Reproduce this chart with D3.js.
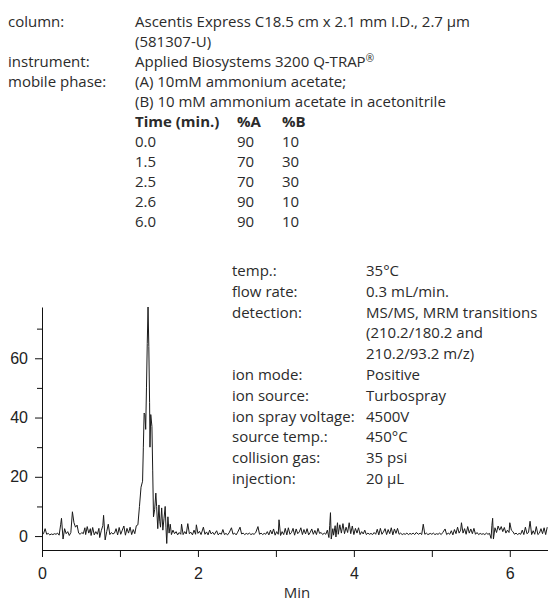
<!DOCTYPE html>
<html>
<head>
<meta charset="utf-8">
<script src="https://cdn.jsdelivr.net/npm/d3@7"></script>
<style>
  body { margin: 0; background: #fff; }
  svg { display: block; }
</style>
</head>
<body>
<script>
// method conditions, upper block
const topLabels = ["column:", "", "instrument:", "mobile phase:", ""];
const topValues = [
  "Ascentis Express C18.5 cm x 2.1 mm I.D., 2.7 µm",
  "(581307-U)",
  "Applied Biosystems 3200 Q-TRAP",
  "(A) 10mM ammonium acetate;",
  "(B) 10 mM ammonium acetate in acetonitrile"
];

// gradient table
const gradientHeader = ["Time (min.)", "%A", "%B"];
const gradientTime = ["0.0", "1.5", "2.5", "2.6", "6.0"];
const gradientA = [90, 70, 70, 90, 90];
const gradientB = [10, 30, 30, 10, 10];

// method conditions, lower block
const bottomLabels = ["temp.:", "flow rate:", "detection:", "", "", "ion mode:", "ion source:",
  "ion spray voltage:", "source temp.:", "collision gas:", "injection:"];
const bottomValues = ["35°C", "0.3 mL/min.", "MS/MS, MRM transitions", "(210.2/180.2 and",
  "210.2/93.2 m/z)", "Positive", "Turbospray", "4500V", "450°C", "35 psi", "20 µL"];

// axes
const xTicks = [0, 1, 2, 3, 4, 5, 6];
const xLabelled = [0, 2, 4, 6];
const yTicks = [0, 10, 20, 30, 40, 50, 60, 70];
const yLabelled = [0, 20, 40, 60];
const xTitle = "Min";

// chromatogram trace [min, signal]
const trace = [
  [0.00,0.5],[0.02,0.8],[0.04,2.5],[0.06,0.6],[0.08,0.9],[0.10,0.4],[0.12,0.7],[0.14,0.5],
  [0.16,0.8],[0.18,0.6],[0.20,1.0],[0.22,0.3],[0.24,4.0],[0.25,6.0],[0.27,-1.0],[0.29,2.5],
  [0.31,0.8],[0.33,1.5],[0.35,0.2],[0.37,1.2],[0.39,8.2],[0.41,4.5],[0.43,3.0],[0.45,3.7],
  [0.47,1.0],[0.49,0.6],[0.51,1.2],[0.53,0.8],[0.55,2.8],[0.56,0.5],[0.58,3.2],[0.60,1.0],
  [0.62,2.5],[0.63,0.2],[0.65,2.9],[0.67,0.4],[0.69,1.5],[0.71,0.6],[0.73,2.6],[0.74,-0.5],
  [0.76,1.8],[0.78,3.5],[0.79,7.0],[0.81,-1.3],[0.83,1.5],[0.85,4.0],[0.87,0.5],[0.89,1.2],
  [0.91,0.7],[0.93,1.0],[0.95,2.5],[0.97,0.4],[0.99,2.9],[1.01,0.6],[1.03,2.0],[1.05,3.4],
  [1.07,0.3],[1.09,2.6],[1.11,1.0],[1.13,3.0],[1.15,0.5],[1.17,2.2],[1.19,0.8],[1.21,3.5],
  [1.23,3.8],[1.25,10],[1.27,16.5],[1.29,18.5],[1.30,30],[1.31,41.5],[1.32,41],[1.33,36],
  [1.34,50],[1.35,65],[1.36,77.3],[1.37,64],[1.38,45],[1.385,30],[1.395,41],[1.41,37],
  [1.42,22],[1.43,6.5],[1.445,9],[1.46,14.5],[1.47,10],[1.485,2.5],[1.50,10.5],[1.51,5],
  [1.52,3],[1.535,9.5],[1.55,2],[1.565,6],[1.58,10],[1.59,3],[1.60,-2.5],[1.615,6.5],
  [1.63,1],[1.645,4],[1.66,0.5],[1.68,2],[1.70,0.8],[1.72,1.5],[1.74,0.4],[1.76,1.2],
  [1.78,0.6],[1.79,4.0],[1.81,0.5],[1.83,1.5],[1.85,0.7],[1.87,4.2],[1.89,0.8],[1.91,1.3],
  [1.93,0.4],[1.95,2.0],[1.97,0.6],[1.98,3.8],[2.00,0.9],[2.02,1.6],[2.04,0.5],[2.07,3.0],
  [2.09,0.6],[2.11,1.4],[2.13,0.4],[2.15,2.0],[2.17,0.7],[2.19,1.3],[2.21,0.5],[2.24,1.8],
  [2.26,0.4],[2.28,1.0],[2.30,0.6],[2.32,2.2],[2.34,0.5],[2.36,0.9],[2.38,0.4],[2.40,1.1],
  [2.43,2.8],[2.45,0.6],[2.47,1.0],[2.49,0.4],[2.51,1.3],[2.54,3.0],[2.56,0.7],[2.58,1.0],
  [2.60,0.5],[2.62,0.9],[2.64,0.6],[2.66,1.0],[2.68,0.5],[2.70,0.8],[2.72,0.6],[2.74,1.1],
  [2.77,3.2],[2.79,0.6],[2.81,1.0],[2.83,0.5],[2.85,0.9],[2.87,0.6],[2.89,1.5],[2.91,0.4],
  [2.93,2.0],[2.95,0.7],[2.97,2.4],[2.99,0.3],[3.01,1.5],[3.03,0.6],[3.04,5.5],[3.06,0.2],
  [3.08,1.5],[3.10,0.5],[3.12,2.6],[3.14,0.4],[3.16,2.8],[3.18,0.6],[3.20,1.2],[3.22,2.6],
  [3.24,0.3],[3.26,2.4],[3.28,0.8],[3.30,1.4],[3.32,2.8],[3.34,0.5],[3.36,2.2],[3.38,0.7],
  [3.40,2.5],[3.42,0.4],[3.44,1.2],[3.46,2.4],[3.48,0.6],[3.50,1.9],[3.52,0.5],[3.54,2.6],
  [3.56,0.9],[3.58,1.2],[3.60,0.5],[3.62,1.0],[3.64,0.6],[3.66,2.0],[3.68,-0.5],[3.69,3.5],
  [3.70,7.9],[3.71,-1.0],[3.73,2.5],[3.74,0.3],[3.76,3.5],[3.77,-0.3],[3.79,4.5],[3.80,0.6],
  [3.82,3.8],[3.84,1.0],[3.86,4.2],[3.88,0.8],[3.90,3.0],[3.92,1.2],[3.94,4.5],[3.96,0.8],
  [3.98,3.4],[4.00,0.5],[4.02,2.6],[4.04,1.0],[4.06,2.8],[4.08,0.5],[4.10,1.5],[4.12,0.7],
  [4.14,2.0],[4.16,0.5],[4.18,1.0],[4.20,0.6],[4.22,0.9],[4.24,0.5],[4.26,1.2],[4.28,0.6],
  [4.30,2.3],[4.32,0.4],[4.34,2.6],[4.36,0.6],[4.38,1.4],[4.40,2.5],[4.42,0.5],[4.44,2.2],
  [4.46,0.8],[4.48,2.8],[4.50,0.4],[4.52,2.4],[4.54,0.9],[4.56,2.6],[4.58,0.6],[4.60,1.0],
  [4.62,0.5],[4.64,0.8],[4.66,0.6],[4.68,1.0],[4.70,0.5],[4.72,0.9],[4.74,0.6],[4.76,1.0],
  [4.78,0.5],[4.80,1.2],[4.83,0.6],[4.85,1.0],[4.87,0.5],[4.89,4.0],[4.91,0.6],[4.93,1.0],
  [4.95,0.5],[4.98,0.9],[5.00,0.6],[5.02,1.0],[5.04,0.5],[5.06,0.8],[5.08,0.6],[5.10,1.0],
  [5.12,0.5],[5.14,1.2],[5.17,2.4],[5.19,0.5],[5.21,1.0],[5.23,0.6],[5.25,1.8],[5.27,0.4],
  [5.29,2.2],[5.31,0.8],[5.33,3.0],[5.35,1.0],[5.37,2.0],[5.38,4.5],[5.40,1.0],[5.42,2.5],
  [5.44,0.6],[5.46,3.2],[5.48,1.0],[5.50,2.4],[5.52,0.8],[5.54,2.6],[5.56,0.6],[5.58,1.2],
  [5.60,0.5],[5.62,0.9],[5.64,0.6],[5.66,0.8],[5.68,0.5],[5.70,1.0],[5.72,0.6],[5.74,0.9],
  [5.76,-0.8],[5.77,3.5],[5.78,6.0],[5.79,-1.0],[5.81,2.8],[5.83,1.2],[5.85,3.4],[5.87,2.0],
  [5.89,3.2],[5.91,1.5],[5.93,2.9],[5.95,1.0],[5.97,2.0],[5.99,1.2],[6.00,4.5],[6.02,2.0],
  [6.04,1.5],[6.06,0.6],[6.08,1.0],[6.10,0.5],[6.12,0.9],[6.14,0.6],[6.16,2.0],[6.18,0.5],
  [6.20,3.0],[6.22,0.8],[6.24,1.2],[6.26,5.0],[6.28,0.5],[6.30,1.8],[6.32,0.6],[6.34,3.2],
  [6.36,0.5],[6.38,1.0],[6.40,2.5],[6.42,0.8],[6.44,2.8],[6.46,0.5],[6.48,3.0]
];

const width = 548, height = 603;
const textFont = "'Open Sans', 'Noto Sans', sans-serif";
const axisFont = "'Liberation Sans', Arial, sans-serif";
const textColor = "#2b2b2b";
const textSize = 15;

const svg = d3.select("body").append("svg")
  .attr("width", width)
  .attr("height", height)
  .style("background", "#fff");

// ---- text blocks ----
const topBlock = svg.append("g")
  .attr("font-family", textFont)
  .attr("font-size", textSize)
  .attr("fill", textColor);

topBlock.selectAll("text.lab")
  .data(topLabels)
  .join("text")
  .attr("class", "lab")
  .attr("x", 8)
  .attr("y", (d, i) => 27 + i * 20)
  .text(d => d);

topBlock.selectAll("text.val")
  .data(topValues)
  .join("text")
  .attr("class", "val")
  .attr("x", 135)
  .attr("y", (d, i) => 27 + i * 20)
  .text(d => d)
  .filter((d, i) => i === 2)
  .append("tspan")
  .attr("font-size", 10)
  .attr("dy", -5)
  .text("®");

const colX = [135, 237, 282];
topBlock.selectAll("text.head")
  .data(gradientHeader)
  .join("text")
  .attr("class", "head")
  .attr("x", (d, i) => colX[i])
  .attr("y", 127)
  .attr("font-weight", "bold")
  .text(d => d);

gradientTime.forEach((t, i) => {
  const row = [t, gradientA[i], gradientB[i]];
  topBlock.selectAll(`text.row${i}`)
    .data(row)
    .join("text")
    .attr("class", `row${i}`)
    .attr("x", (d, j) => colX[j])
    .attr("y", 147 + i * 20)
    .text(d => d);
});

const bottomBlock = svg.append("g")
  .attr("font-family", textFont)
  .attr("font-size", textSize)
  .attr("fill", textColor);

bottomBlock.selectAll("text.lab")
  .data(bottomLabels)
  .join("text")
  .attr("class", "lab")
  .attr("x", 232)
  .attr("y", (d, i) => 276 + i * 20.8)
  .text(d => d);

bottomBlock.selectAll("text.val")
  .data(bottomValues)
  .join("text")
  .attr("class", "val")
  .attr("x", 366)
  .attr("y", (d, i) => 276 + i * 20.8)
  .text(d => d);

// ---- chart ----
const x = d3.scaleLinear().domain([0, 6.49]).range([42, 548]);
const y = d3.scaleLinear().domain([-4.7, 77.3]).range([550, 307]);

const xAxis = svg.append("g")
  .attr("transform", `translate(0,${y(-4.7)})`)
  .call(d3.axisBottom(x)
    .tickValues(xTicks)
    .tickSize(7)
    .tickSizeOuter(0)
    .tickPadding(11)
    .tickFormat(d => xLabelled.includes(d) ? d : ""));

const yAxis = svg.append("g")
  .attr("transform", `translate(${x(0)},0)`)
  .call(d3.axisLeft(y)
    .tickValues(yTicks)
    .tickSize(6)
    .tickSizeOuter(0)
    .tickPadding(8)
    .tickFormat(d => yLabelled.includes(d) ? d : ""));

yAxis.selectAll(".tick line").attr("x2", d => yLabelled.includes(d) ? -7 : -5);

[xAxis, yAxis].forEach(g => {
  g.selectAll("path, line").attr("stroke", "#111").attr("stroke-width", 1);
  g.selectAll("text")
    .attr("font-family", axisFont)
    .attr("font-size", 16)
    .attr("fill", "#222");
});

svg.append("text")
  .attr("x", 297)
  .attr("y", 598)
  .attr("text-anchor", "middle")
  .attr("font-family", textFont)
  .attr("font-size", textSize)
  .attr("fill", textColor)
  .text(xTitle);

const line = d3.line()
  .x(d => x(d[0]))
  .y(d => y(d[1]));

svg.append("path")
  .datum(trace)
  .attr("fill", "none")
  .attr("stroke", "#1a1a1a")
  .attr("stroke-width", 1)
  .attr("stroke-linejoin", "round")
  .attr("d", line);
</script>
</body>
</html>
